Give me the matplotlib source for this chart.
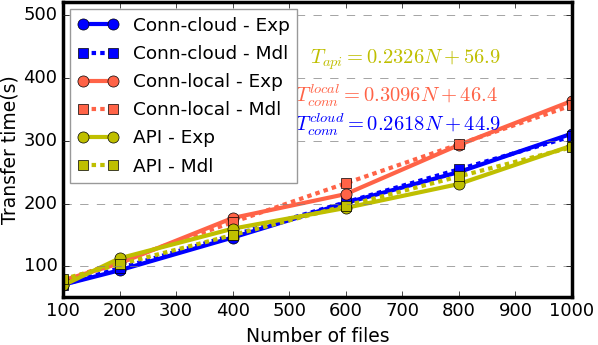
import matplotlib
matplotlib.use('Agg')
import matplotlib.pyplot as plt
import numpy as np

# Data
n_files = [100, 200, 400, 600, 800, 1000]
cloud_exp = [71, 94, 146, 201, 250, 311]
local_exp = [78, 105, 177, 215, 293, 363]
api_exp = [70, 113, 160, 193, 231, 292]

cloud_fit = (0.2618, 44.9)
local_fit = (0.3096, 46.4)
api_fit = (0.2326, 56.9)

n = np.array(n_files)
cloud_mdl = cloud_fit[0] * n + cloud_fit[1]
local_mdl = local_fit[0] * n + local_fit[1]
api_mdl = api_fit[0] * n + api_fit[1]

plt.style.use('classic')
plt.rcParams['figure.facecolor'] = 'white'
plt.rcParams['font.size'] = 13

fig = plt.figure(figsize=(5.98, 3.45), dpi=100)
ax = fig.add_axes([0.1054, 0.140, 0.851, 0.854])

c_cloud = 'blue'
c_local = 'tomato'
c_api = 'y'
dots = (3.2, 3.0)

ax.plot(n_files, cloud_exp, '-o', color=c_cloud, lw=3, ms=8, label='Conn-cloud - Exp')
ax.plot(n_files, cloud_mdl, ':s', color=c_cloud, lw=3, ms=6.5, dashes=dots, label='Conn-cloud - Mdl')
ax.plot(n_files, local_exp, '-o', color=c_local, lw=3, ms=8, label='Conn-local - Exp')
ax.plot(n_files, local_mdl, ':s', color=c_local, lw=3, ms=6.5, dashes=dots, label='Conn-local - Mdl')
ax.plot(n_files, api_exp, '-o', color=c_api, lw=3, ms=8, label='API - Exp')
ax.plot(n_files, api_mdl, ':s', color=c_api, lw=3, ms=6.5, dashes=dots, label='API - Mdl')

ax.text(537, 423, r'$T_{api} = %.4fN + %.1f$' % api_fit, color=c_api, fontsize=14.8)
ax.text(510, 361, r'$T_{conn}^{local} = %.4fN + %.1f$' % local_fit, color=c_local, fontsize=14.8)
ax.text(510, 315, r'$T_{conn}^{cloud} = %.4fN + %.1f$' % cloud_fit, color=c_cloud, fontsize=14.8)

ax.set_xlim(100, 1000)
ax.set_ylim(52, 520)
ax.set_yticks([100, 200, 300, 400, 500])
ax.set_xlabel('Number of files', fontsize=13.5)
ax.set_ylabel('Transfer time(s)', fontsize=13.5, labelpad=3)
ax.yaxis.grid(True, linestyle='--', color='gray')
for s in ax.spines.values():
    s.set_linewidth(2.5)

leg = ax.legend(loc='upper left', fontsize=13.3, numpoints=2, framealpha=1,
                borderaxespad=0.4, handlelength=2.2, labelspacing=0.55)
leg.get_frame().set_edgecolor('0.6')

plt.savefig('out.png', dpi=100)
plt.close()
